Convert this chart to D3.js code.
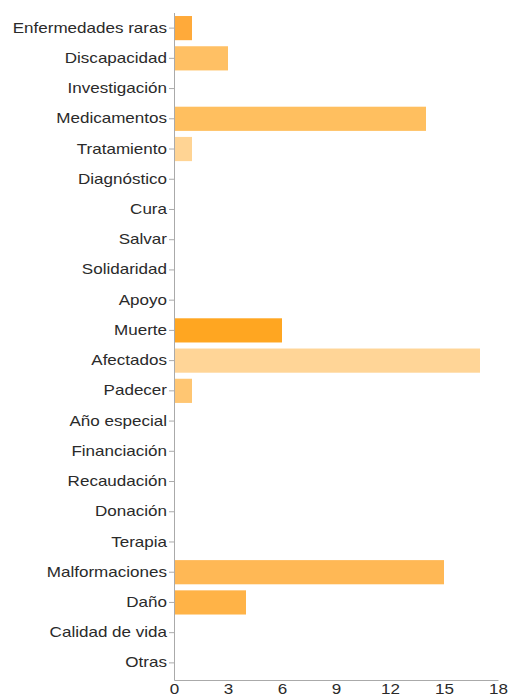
<!DOCTYPE html>
<html><head><meta charset="utf-8">
<script src="https://cdn.jsdelivr.net/npm/d3@7"></script>
<style>body{margin:0;background:#fff}svg{display:block}</style>
</head><body>
<script>
const categories = ["Enfermedades raras","Discapacidad","Investigación","Medicamentos","Tratamiento","Diagnóstico","Cura","Salvar","Solidaridad","Apoyo","Muerte","Afectados","Padecer","Año especial","Financiación","Recaudación","Donación","Terapia","Malformaciones","Daño","Calidad de vida","Otras"];
const values = [1,3,0,14,1,0,0,0,0,0,6,17,1,0,0,0,0,0,15,4,0,0];
const colors = ["#FFAA3A","#FFC064","#FFC064","#FFBF5F","#FFD494","#FFD494","#FFD494","#FFD494","#FFD494","#FFD494","#FFA621","#FFD597","#FFC672","#FFC672","#FFC672","#FFC672","#FFC672","#FFC672","#FFB855","#FFB347","#FFB347","#FFB347"];
const xTicks = [0,3,6,9,12,15,18];

const W = 508, H = 695;
const m = {left:174, top:13};
const sx = 1.2;
const svg = d3.select("body").append("svg").attr("width",W).attr("height",H);
const x = d3.scaleLinear().domain([0,18]).range([m.left, 498]);
const y = d3.scaleBand().domain(categories).range([m.top, 678]).paddingInner(0.2).paddingOuter(0.1);

svg.append("g").selectAll("rect").data(categories).join("rect")
  .attr("x", x(0)+1)
  .attr("y", d=>y(d))
  .attr("width", (d,i)=>Math.max(0, x(values[i])-x(0)-1))
  .attr("height", y.bandwidth())
  .attr("fill", (d,i)=>colors[i]);

const yAxis = svg.append("g").attr("transform",`translate(${x(0)},0)`)
  .call(d3.axisLeft(y).tickSize(5).tickSizeOuter(0));
yAxis.select(".domain").attr("stroke","#aaa").attr("d",`M0.5,${m.top}V680.5`);
yAxis.selectAll(".tick line").attr("stroke","#aaa");
yAxis.selectAll("text").attr("font-family","'Liberation Sans', Arial, sans-serif").attr("font-size",14.2).attr("fill","#2a2a2a")
  .attr("x",-7/sx).attr("transform",`scale(${sx},1)`);

const xAxis = svg.append("g").attr("transform",`translate(0,680)`)
  .call(d3.axisBottom(x).tickValues(xTicks).tickSize(0).tickSizeOuter(0));
xAxis.select(".domain").attr("stroke","#aaa");
xAxis.selectAll(".tick").each(function(d){
  d3.select(this).select("text").attr("font-family","'Liberation Sans', Arial, sans-serif").attr("font-size",14.2).attr("fill","#2a2a2a")
    .attr("y",0).attr("dy",null).attr("transform",`translate(0,13.5) scale(${sx},1)`);
});
</script>
</body></html>
